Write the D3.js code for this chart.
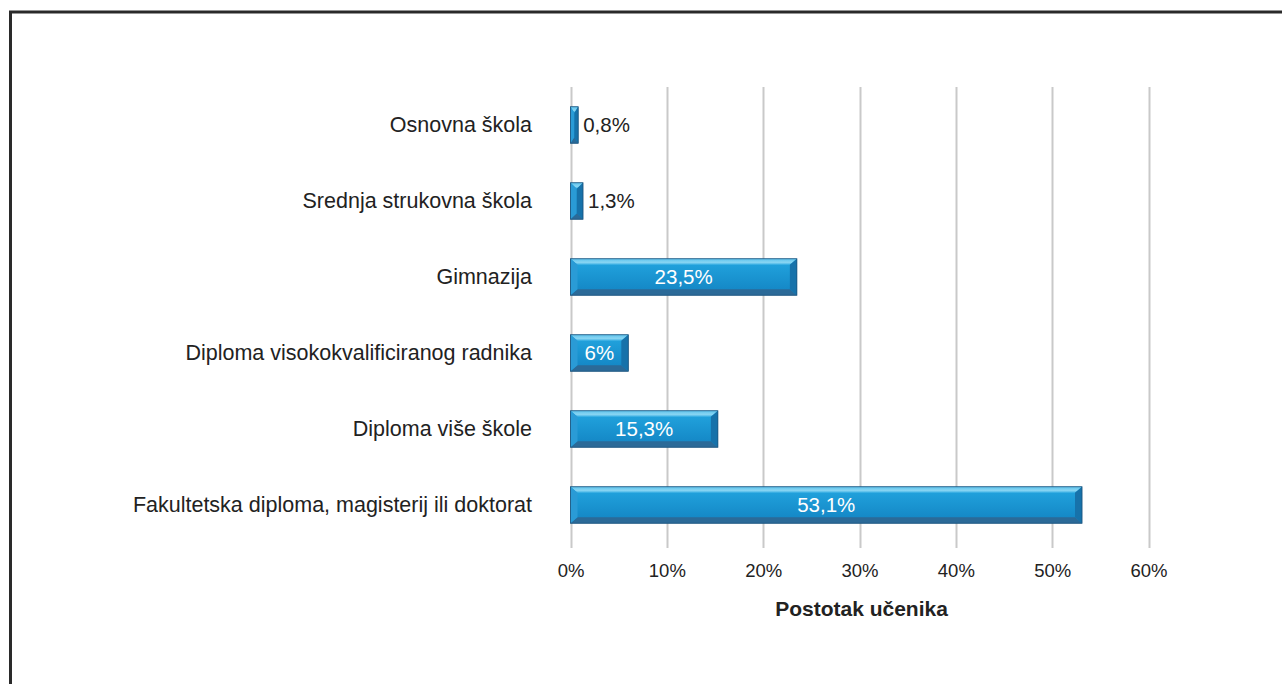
<!DOCTYPE html>
<html>
<head>
<meta charset="utf-8">
<script src="https://cdn.jsdelivr.net/npm/d3@7"></script>
<style>
  html, body { margin: 0; padding: 0; background: #fff; }
  svg { display: block; font-family: "Liberation Sans", Arial, Helvetica, sans-serif; }
</style>
</head>
<body>
<svg id="chart" width="1282" height="684"></svg>
<script>
// Education levels and share of pupils (percent)
const categories = [
  "Osnovna škola",
  "Srednja strukovna škola",
  "Gimnazija",
  "Diploma visokokvalificiranog radnika",
  "Diploma više škole",
  "Fakultetska diploma, magisterij ili doktorat"
];
const values = [0.8, 1.3, 23.5, 6, 15.3, 53.1];
const valueLabels = ["0,8%", "1,3%", "23,5%", "6%", "15,3%", "53,1%"];
const tickValues = [0, 10, 20, 30, 40, 50, 60];
const axisTitle = "Postotak učenika";

const svg = d3.select("#chart");

// Outer frame (top and left edges)
svg.append("path")
  .attr("d", "M10.5,684 L10.5,12 L1282,12")
  .attr("fill", "none")
  .attr("stroke", "#2a2a2a")
  .attr("stroke-width", 3);

const x = d3.scaleLinear().domain([0, 60]).range([570.5, 1148.5]);
const y = d3.scaleBand().domain(categories).range([87, 543]).paddingInner(0.52).paddingOuter(0.26);

// Gradients for the bevelled bars
const defs = svg.append("defs");
const face = defs.append("linearGradient").attr("id", "face").attr("x1", 0).attr("y1", 0).attr("x2", 0).attr("y2", 1);
face.append("stop").attr("offset", "0%").attr("stop-color", "#23a6e0");
face.append("stop").attr("offset", "100%").attr("stop-color", "#1283c2");
const topG = defs.append("linearGradient").attr("id", "topEdge").attr("x1", 0).attr("y1", 0).attr("x2", 0).attr("y2", 1);
topG.append("stop").attr("offset", "0%").attr("stop-color", "#5cc2ec");
topG.append("stop").attr("offset", "60%").attr("stop-color", "#8ad6f3");
topG.append("stop").attr("offset", "100%").attr("stop-color", "#3cb0e4");

// Vertical gridlines
svg.append("g")
  .selectAll("line")
  .data(tickValues)
  .join("line")
  .attr("x1", d => Math.round(x(d)) + 0.5)
  .attr("x2", d => Math.round(x(d)) + 0.5)
  .attr("y1", 87)
  .attr("y2", 548)
  .attr("stroke", "#c9c9c9")
  .attr("stroke-width", 2);

// Tick labels
const axis = d3.axisBottom(x).tickValues(tickValues).tickFormat(d => d + "%").tickSize(0).tickPadding(0);
const axisG = svg.append("g").attr("transform", "translate(0,577)").call(axis);
axisG.select(".domain").remove();
axisG.selectAll("text")
  .attr("dy", 0)
  .attr("fill", "#222")
  .style("font-size", "18.5px")
  .style("font-family", "\"Liberation Sans\", Arial, sans-serif");

// Axis title
svg.append("text")
  .attr("x", x(0) + (x(60) - x(0)) / 2 + 2)
  .attr("y", 616)
  .attr("text-anchor", "middle")
  .attr("fill", "#222")
  .style("font-size", "21px")
  .style("font-weight", "bold")
  .text(axisTitle);

// Category labels
svg.append("g")
  .selectAll("text")
  .data(categories)
  .join("text")
  .attr("x", 532)
  .attr("y", d => y(d) + y.bandwidth() / 2 + 7)
  .attr("text-anchor", "end")
  .attr("fill", "#222")
  .style("font-size", "21.5px")
  .text(d => d);

// Bars with bevelled edges
const bars = svg.append("g")
  .selectAll("g")
  .data(categories.map((c, i) => ({ c, v: values[i], label: valueLabels[i] })))
  .join("g");

bars.each(function (d) {
  const g = d3.select(this);
  const x0 = x(0), x1 = x(d.v);
  const y0 = y(d.c), y1 = y0 + y.bandwidth();
  const w = x1 - x0;
  const b = Math.min(7, w / 2);
  const bt = 6, bb = 6;
  // face
  g.append("rect").attr("x", x0).attr("y", y0).attr("width", w).attr("height", y1 - y0).attr("fill", "url(#face)");
  // top bevel
  g.append("path").attr("d", `M${x0},${y0} L${x1},${y0} L${x1 - b},${y0 + bt} L${x0 + b},${y0 + bt} Z`).attr("fill", "url(#topEdge)");
  // bottom bevel
  g.append("path").attr("d", `M${x0},${y1} L${x1},${y1} L${x1 - b},${y1 - bb} L${x0 + b},${y1 - bb} Z`).attr("fill", "#2b6a98");
  // left bevel
  g.append("path").attr("d", `M${x0},${y0} L${x0 + b},${y0 + bt} L${x0 + b},${y1 - bb} L${x0},${y1} Z`).attr("fill", "#2a9bd6");
  // right bevel
  g.append("path").attr("d", `M${x1},${y0} L${x1 - b},${y0 + bt} L${x1 - b},${y1 - bb} L${x1},${y1} Z`).attr("fill", "#1772aa");
  // thin dark outline
  g.append("rect").attr("x", x0).attr("y", y0).attr("width", w).attr("height", y1 - y0)
    .attr("fill", "none").attr("stroke", "#1a4f78").attr("stroke-width", 0.8);

  const inside = d.v > 4;
  g.append("text")
    .attr("x", inside ? (x0 + x1) / 2 : x1 + 5)
    .attr("y", (y0 + y1) / 2 + 7)
    .attr("text-anchor", inside ? "middle" : "start")
    .attr("fill", inside ? "#fff" : "#222")
    .style("font-size", "20.5px")
    .text(d.label);
});
</script>
</body>
</html>
